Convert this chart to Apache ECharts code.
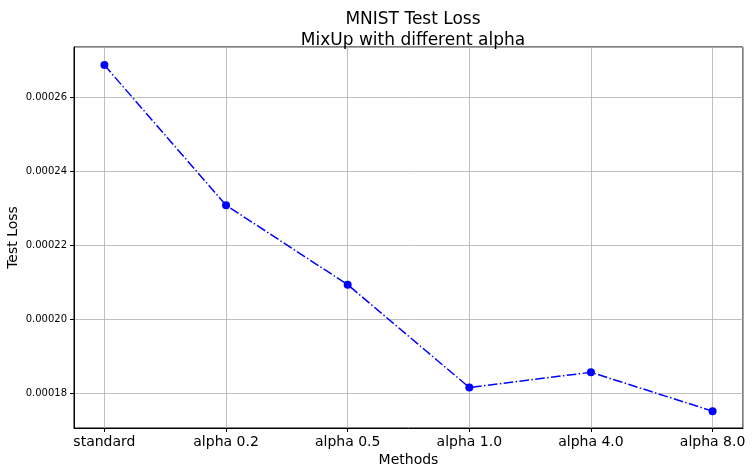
<!DOCTYPE html>
<html>
<head>
<meta charset="utf-8">
<script src="https://cdn.jsdelivr.net/npm/echarts@6/dist/echarts.min.js"></script>
<style>
  html, body { margin: 0; padding: 0; background: #fff; }
  #chart { width: 752px; height: 474px; }
</style>
</head>
<body>
<div id="chart"></div>
<script>
// chart data
var methods = ['standard', 'alpha 0.2', 'alpha 0.5', 'alpha 1.0', 'alpha 4.0', 'alpha 8.0'];
var testLoss = [0.0002687, 0.0002308, 0.0002093, 0.0001815, 0.0001856, 0.0001751];
var yTicks = [0.00018, 0.00020, 0.00022, 0.00024, 0.00026];

var font = 'DejaVu Sans';
var chart = echarts.init(document.getElementById('chart'));

var points = [];
for (var i = 0; i < testLoss.length; i++) {
    points.push([i, testLoss[i]]);
}

var option = {
    backgroundColor: '#ffffff',
    animation: false,
    title: {
        text: 'MNIST Test Loss\nMixUp with different alpha',
        left: 408,
        top: 4,
        textAlign: 'center',
        textStyle: {
            fontFamily: font,
            fontSize: 17,
            fontWeight: 'normal',
            color: '#000',
            lineHeight: 21
        }
    },
    grid: {
        left: 74,
        right: 9,
        top: 47,
        bottom: 46,
        show: true,
        borderColor: '#000',
        borderWidth: 1,
        containLabel: false,
        outerBoundsMode: 'none'
    },
    xAxis: {
        type: 'value',
        min: -0.25,
        max: 5.25,
        splitNumber: 5,
        name: 'Methods',
        nameLocation: 'middle',
        nameGap: 25,
        nameMoveOverlap: false,
        nameTextStyle: { fontFamily: font, fontSize: 14, color: '#000' },
        axisLine: { show: true, onZero: false, lineStyle: { color: '#000', width: 1 } },
        axisTick: { show: true, length: 4, lineStyle: { color: '#000' } },
        axisLabel: {
            fontFamily: font,
            fontSize: 14,
            color: '#000',
            margin: 7,
            showMinLabel: false,
            showMaxLabel: false,
            formatter: function (v) {
                return Number.isInteger(v) && methods[v] ? methods[v] : '';
            }
        },
        splitLine: { show: true, lineStyle: { color: '#b0b0b0', width: 0.8 } }
    },
    yAxis: {
        type: 'value',
        min: 0.00017054,
        max: 0.0002736,
        splitNumber: 5,
        name: 'Test Loss',
        nameLocation: 'middle',
        nameRotate: 90,
        nameGap: 54,
        nameMoveOverlap: false,
        nameTextStyle: { fontFamily: font, fontSize: 14, color: '#000' },
        axisLine: { show: true, onZero: false, lineStyle: { color: '#000', width: 1 } },
        axisTick: { show: true, length: 4, lineStyle: { color: '#000' } },
        axisLabel: {
            fontFamily: font,
            fontSize: 10,
            color: '#000',
            margin: 7,
            showMinLabel: false,
            showMaxLabel: false,
            formatter: function (v) {
                for (var k = 0; k < yTicks.length; k++) {
                    if (Math.abs(v - yTicks[k]) < 1e-9) return yTicks[k].toFixed(5);
                }
                return '';
            }
        },
        splitLine: { show: true, lineStyle: { color: '#b0b0b0', width: 0.8 } }
    },
    series: [{
        type: 'line',
        data: points,
        symbol: 'circle',
        symbolSize: 8,
        itemStyle: { color: '#0000ff' },
        lineStyle: { color: '#0000ff', width: 1.5, type: [9.6, 2.4, 1.5, 2.4] }
    }]
};

chart.setOption(option);
</script>
</body>
</html>
